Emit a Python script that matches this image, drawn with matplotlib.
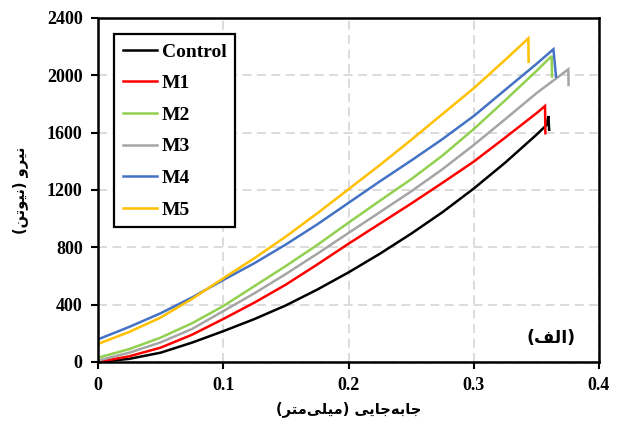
import matplotlib
matplotlib.use("Agg")
import matplotlib.pyplot as plt

# displacement (mm) / force (N)
grid_x = [0, 0.025, 0.05, 0.075, 0.1, 0.125, 0.15, 0.175, 0.2, 0.225, 0.25, 0.275, 0.3, 0.325, 0.35]

x_control = grid_x + [0.3582, 0.3596, 0.3602]
y_control = [0, 22, 65, 135, 215, 300, 395, 505, 625, 755, 895, 1045, 1210, 1390, 1585, 1654, 1716, 1620]

x_m1 = grid_x + [0.3569, 0.3572]
y_m1 = [0, 40, 100, 190, 300, 415, 540, 680, 825, 965, 1105, 1250, 1398, 1565, 1735, 1786, 1596]

x_m2 = grid_x + [0.3622, 0.3625]
y_m2 = [30, 90, 170, 270, 390, 530, 670, 816, 972, 1125, 1275, 1440, 1625, 1825, 2030, 2135, 1991]

x_m3 = grid_x + [0.3755, 0.3757]
y_m3 = [10, 65, 137, 230, 355, 480, 614, 755, 900, 1045, 1190, 1345, 1514, 1693, 1875, 2042, 1933]

x_m4 = grid_x + [0.3636, 0.3657]
y_m4 = [158, 245, 340, 450, 572, 690, 820, 960, 1110, 1260, 1405, 1555, 1716, 1898, 2079, 2182, 1991]

x_m5 = grid_x[:-1] + [0.3436, 0.3438]
y_m5 = [126, 210, 310, 440, 584, 725, 875, 1037, 1205, 1374, 1549, 1730, 1910, 2107, 2258, 2095]

names = ["Control", "M1", "M2", "M3", "M4", "M5"]
colors = ["#000000", "#FF0000", "#92D050", "#A5A5A5", "#4472C4", "#FFC000"]
xs = [x_control, x_m1, x_m2, x_m3, x_m4, x_m5]
ys = [y_control, y_m1, y_m2, y_m3, y_m4, y_m5]

xticks = [0, 0.1, 0.2, 0.3, 0.4]
xtick_labels = ["0", "0.1", "0.2", "0.3", "0.4"]
yticks = [0, 400, 800, 1200, 1600, 2000, 2400]

# persian labels written in shaped presentation forms, visual order
xlabel = "(\uFEAE\uFE98\uFEE3\uFBFD\uFEE0\uFEF4\uFEE3) \uFBFD\uFEF3\uFE8E\uFE9F\uFEEA\uFE91\uFE8E\uFE9F"
ylabel = "(\uFEE6\uFE97\uFEEE\uFEF4\uFEE7) \uFEED\uFEAE\uFEF4\uFEE7"
panel = "(\uFED2\uFEDF\uFE8D)"

serif = "Liberation Serif"

fig = plt.figure(figsize=(6.19, 4.28), dpi=100)
ax = fig.add_axes([98 / 619, 66 / 428, 501 / 619, 344 / 428])

for x, y, n, c in zip(xs, ys, names, colors):
    ax.plot(x, y, color=c, lw=1.8, label=n, solid_joinstyle="miter")

ax.set_xlim(0, 0.4)
ax.set_ylim(0, 2400)
ax.set_xticks(xticks)
ax.set_xticklabels(xtick_labels)
ax.set_yticks(yticks)

ax.grid(True, ls=(0, (5, 3)), color="#D9D9D9", lw=1.3)
ax.set_axisbelow(True)

for s in ax.spines.values():
    s.set_linewidth(1.8)
    s.set_color("black")

ax.tick_params(direction="out", length=5, width=1.5, pad=6)
for lab in ax.get_xticklabels() + ax.get_yticklabels():
    lab.set_fontfamily(serif)
    lab.set_fontweight("bold")
    lab.set_fontsize(13)

ax.set_xlabel(xlabel, family="DejaVu Sans", fontweight="bold", fontsize=10.5, labelpad=5)
ax.set_ylabel(ylabel, family="DejaVu Sans", fontweight="bold", fontsize=10.5, labelpad=14)

ax.text(0.905, 0.07, panel, transform=ax.transAxes, family="DejaVu Sans",
        fontweight="bold", fontsize=12.5, ha="center", va="center")

leg = ax.legend(loc="upper left", bbox_to_anchor=(0.032, 0.953), borderaxespad=0,
                prop={"family": serif, "weight": "bold", "size": 14},
                fancybox=False, edgecolor="black", framealpha=1,
                handlelength=1.75, handletextpad=0.25, labelspacing=0.72,
                borderpad=0.45)
leg.get_frame().set_linewidth(1.6)

fig.savefig("out.png", dpi=100)
